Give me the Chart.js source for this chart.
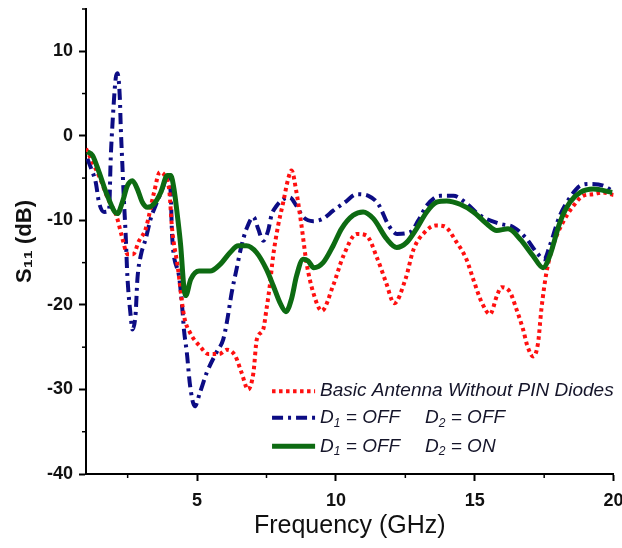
<!DOCTYPE html>
<html><head><meta charset="utf-8">
<script src="https://cdn.jsdelivr.net/npm/chart.js@4"></script>
<style>html,body{margin:0;padding:0;background:#fff}#wrap{width:622px;height:548px}</style>
</head><body><div id="wrap"><canvas id="c" width="622" height="548"></canvas></div>
<script>
const basicFreq = [1.0,1.5,1.8,2.1,2.3,2.5,2.7,2.9,3.15,3.45,3.66,3.85,4.0,4.1,4.3,4.53,4.75,5.13,5.4,5.8,6.07,6.37,6.6,6.84,7.03,7.15,7.38,7.5,7.62,7.74,7.92,8.1,8.28,8.4,8.58,8.76,8.94,9.18,9.49,9.9,10.27,10.75,11.1,11.5,11.8,12.1,12.5,12.8,13.2,13.6,13.9,14.35,14.7,14.95,15.25,15.55,15.8,15.96,16.27,16.5,16.74,16.9,17.1,17.28,17.4,17.58,17.82,18.18,18.55,18.9,19.27,19.6,20.0];
const basicS11 = [-1.5,-5,-7.5,-9.5,-12,-14,-14,-12.5,-11,-6.7,-4.3,-4.8,-6.5,-11,-15.4,-21.3,-23.3,-25,-25.8,-25.8,-25.3,-26,-28,-30,-28,-24.1,-22.9,-20.5,-17.7,-14.2,-10.6,-7.9,-5.1,-4.1,-6.7,-10.6,-15,-18.5,-20.7,-17.7,-14.2,-11.6,-11.8,-14.6,-17.3,-19.8,-17,-13.4,-11.4,-10.6,-10.7,-12.6,-14.6,-17,-19.7,-21.1,-18.9,-17.9,-18.5,-20.5,-22.9,-24.9,-26.1,-24.5,-20.5,-16.2,-13,-10.2,-8.3,-7.1,-6.9,-6.7,-7];

const offOffFreq = [1.05,1.2,1.35,1.47,1.65,1.83,1.89,1.95,2.07,2.13,2.22,2.25,2.3,2.37,2.43,2.49,2.61,2.67,2.79,2.85,2.97,3.15,3.33,3.5,3.75,3.93,4.05,4.1,4.35,4.47,4.53,4.63,4.75,4.92,5.1,5.35,5.7,5.94,6.07,6.25,6.42,6.6,6.78,7.03,7.2,7.38,7.56,7.68,7.86,8.1,8.34,8.58,8.82,9.18,9.54,9.9,10.33,10.75,11.17,11.53,11.9,12.2,12.67,12.97,13.27,13.75,14.23,14.65,15.18,15.9,16.39,16.87,17.23,17.5,17.7,18.07,18.43,18.8,19.15,19.63,19.95];
const offOffS11 = [-2.7,-4,-5.5,-7.9,-9.0,-8.85,-2.7,1.2,6.8,7.4,4.4,1.2,-2.7,-7.9,-11.8,-16.6,-21.3,-22.9,-20.9,-17,-14.2,-12.2,-9.8,-8.3,-6.3,-4.9,-6.7,-11.8,-16.6,-20.5,-23,-25.6,-29.6,-32,-30.4,-28,-25.6,-24.1,-22.1,-18.5,-15.8,-13,-11,-9.6,-11,-12.4,-11.2,-9.4,-8.3,-7.5,-7.3,-8.3,-9.6,-10.1,-9.8,-8.85,-7.85,-6.9,-7.1,-8.1,-10.6,-11.6,-11.4,-10,-8.25,-7.1,-7.1,-7.85,-9.4,-10.4,-10.8,-12.2,-13.8,-14.6,-13,-9.4,-7.3,-5.9,-5.7,-5.9,-6.5];

const offOnFreq = [1.05,1.23,1.47,1.77,2.13,2.31,2.49,2.67,2.85,3.03,3.21,3.45,3.69,3.93,4.05,4.17,4.29,4.41,4.53,4.59,4.77,5.07,5.47,5.83,6.19,6.48,6.78,7.14,7.5,7.74,7.98,8.2,8.4,8.58,8.82,9.0,9.2,9.54,9.9,10.2,10.62,10.98,11.35,11.83,12.19,12.55,12.9,13.27,13.63,13.99,14.47,14.95,15.43,15.79,16.2,16.63,17.1,17.46,17.7,18.07,18.43,18.8,19.27,19.95];
const offOnS11 = [-1.9,-2.3,-4.3,-7.1,-9.2,-7.85,-5.9,-5.3,-6.3,-7.85,-8.45,-8.05,-6.7,-4.7,-4.7,-6.3,-9.4,-13,-18.1,-18.9,-17,-16.0,-16.0,-15.2,-13.8,-13.0,-13,-13.8,-15.8,-17.7,-19.7,-20.8,-19.3,-16.6,-14.6,-14.8,-15.6,-15.0,-13,-11.0,-9.4,-9.0,-9.8,-12.2,-13.2,-12.6,-11,-9.0,-7.85,-7.7,-8.1,-9.0,-10.4,-11.2,-11.0,-12.2,-14.2,-15.6,-14.2,-10.2,-7.85,-6.7,-6.3,-6.7];

const xMajorTicks = [5,10,15,20];
const xMinorTicks = [2.5,7.5,12.5,17.5];
const yMajorTicks = [-40,-30,-20,-10,0,10];
const yMinorTicks = [-35,-25,-15,-5,5,15];
const legendLeft = ['Basic Antenna Without PIN Diodes','D₁ = OFF','D₁ = OFF'];
const legendRight = ['','D₂ = OFF','D₂ = ON'];
const xTitle = 'Frequency (GHz)';
const yTitle = 'S₁₁ (dB)';

const FAM = "'Liberation Sans', Arial, Helvetica, sans-serif";
Chart.defaults.font.family = FAM;
Chart.defaults.color = '#111';

const pts = (xs, ys) => xs.map((x, i) => ({x: x, y: ys[i]}));

function drawRich(ctx, text, x, y, size, style) {
  const subs = '₀₁₂₃₄₅₆₇₈₉';
  let cx = x;
  for (const ch of text) {
    const k = subs.indexOf(ch);
    if (k >= 0) {
      ctx.font = `${style} ${Math.round(size * 0.62)}px ${FAM}`;
      ctx.fillText(String(k), cx, y + size * 0.3);
      cx += ctx.measureText(String(k)).width;
    } else {
      ctx.font = `${style} ${size}px ${FAM}`;
      ctx.fillText(ch, cx, y);
      cx += ctx.measureText(ch).width;
    }
  }
}

const extras = {
  id: 'extras',
  afterDraw(chart) {
    const ctx = chart.ctx;
    const xs = chart.scales.x, ys = chart.scales.y;
    const ca = chart.chartArea;
    ctx.save();
    ctx.strokeStyle = '#000';
    ctx.lineWidth = 1.5;
    xMinorTicks.forEach(v => {
      const px = xs.getPixelForValue(v);
      ctx.beginPath(); ctx.moveTo(px, ca.bottom); ctx.lineTo(px, ca.bottom + 4); ctx.stroke();
    });
    yMinorTicks.forEach(v => {
      const py = ys.getPixelForValue(v);
      ctx.beginPath(); ctx.moveTo(ca.left, py); ctx.lineTo(ca.left - 4, py); ctx.stroke();
    });
    // legend
    const rowY = [ys.getPixelForValue(-30.2), ys.getPixelForValue(-33.36), ys.getPixelForValue(-36.73)];
    const x0 = xs.getPixelForValue(7.7), x1 = xs.getPixelForValue(9.25);
    const tx = xs.getPixelForValue(9.43), tx2 = xs.getPixelForValue(13.21);
    chart.data.datasets.forEach((ds, i) => {
      ctx.save();
      ctx.strokeStyle = ds.borderColor;
      ctx.lineWidth = ds.borderWidth;
      ctx.setLineDash(ds.borderDash || []);
      ctx.beginPath(); ctx.moveTo(x0, rowY[i]); ctx.lineTo(x1, rowY[i]); ctx.stroke();
      ctx.restore();
      ctx.fillStyle = '#15152a';
      ctx.textBaseline = 'middle';
      ctx.textAlign = 'left';
      drawRich(ctx, legendLeft[i], tx, rowY[i], 19, 'italic');
      if (legendRight[i]) drawRich(ctx, legendRight[i], tx2, rowY[i], 19, 'italic');
    });
    ctx.restore();
  }
};

new Chart(document.getElementById('c'), {
  type: 'line',
  data: {
    datasets: [
      { label: legendLeft[0], data: pts(basicFreq, basicS11), borderColor: '#ff1010', borderWidth: 4, borderDash: [3.5, 3.5], order: 1 },
      { label: legendLeft[1] + '  ' + legendRight[1], data: pts(offOffFreq, offOffS11), borderColor: '#0c0c84', borderWidth: 4, borderDash: [11, 5, 3, 5], order: 2 },
      { label: legendLeft[2] + '  ' + legendRight[2], data: pts(offOnFreq, offOnS11), borderColor: '#0d6b12', borderWidth: 5, order: 0 }
    ]
  },
  options: {
    responsive: false,
    animation: false,
    devicePixelRatio: 1,
    layout: { padding: { top: 9, right: 8.4, left: 0, bottom: 0 } },
    elements: { point: { radius: 0 }, line: { tension: 0.4, cubicInterpolationMode: 'monotone', fill: false, borderCapStyle: 'butt' } },
    plugins: { legend: { display: false }, tooltip: { enabled: false } },
    scales: {
      x: {
        type: 'linear', min: 1, max: 20,
        afterBuildTicks: s => { s.ticks = xMajorTicks.map(v => ({value: v})); },
        afterFit: s => { s.height = 74; s.paddingLeft = 0; s.paddingRight = 0; },
        grid: { drawOnChartArea: false, drawTicks: true, tickLength: 7, tickWidth: 2, tickColor: '#000' },
        border: { display: true, color: '#000', width: 2 },
        ticks: { padding: 9, font: { size: 18, weight: 'bold' }, color: '#111', maxRotation: 0 },
        title: { display: true, text: xTitle, font: { size: 25 }, color: '#111', padding: { top: 0, bottom: 7 } }
      },
      y: {
        type: 'linear', min: -40, max: 15,
        afterBuildTicks: s => { s.ticks = yMajorTicks.map(v => ({value: v})); },
        afterFit: s => { s.width = 86; s.paddingTop = 0; s.paddingBottom = 0; },
        grid: { drawOnChartArea: false, drawTicks: true, tickLength: 7, tickWidth: 2, tickColor: '#000' },
        border: { display: true, color: '#000', width: 2 },
        ticks: { padding: 6, font: { size: 18, weight: 'bold', lineHeight: 1 }, color: '#111' },
        title: { display: true, text: yTitle, font: { size: 22, weight: 'bold' }, color: '#111', padding: { top: 12, bottom: 0 } }
      }
    }
  },
  plugins: [extras]
});
</script>
</body></html>
